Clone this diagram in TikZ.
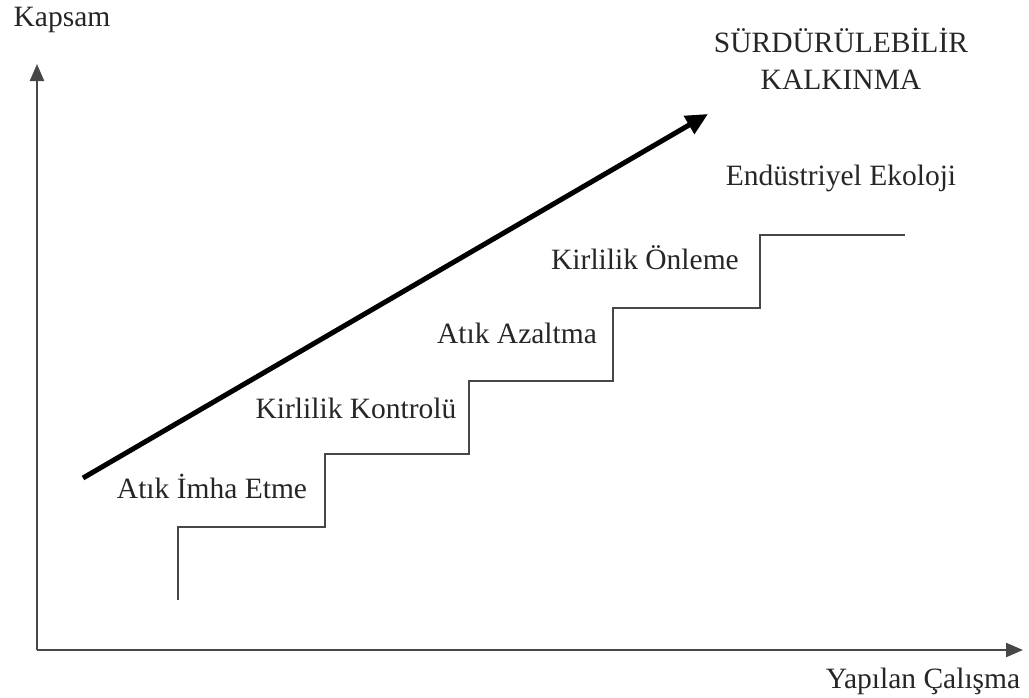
\documentclass[tikz,border=0pt]{standalone}
\usepackage{fontspec}
\setmainfont{Liberation Serif}
\usetikzlibrary{arrows.meta}
\begin{document}
\begin{tikzpicture}[x=1pt,y=-1pt,
  lbl/.style={font=\fontsize{29.5}{34}\selectfont, text=black!85, inner sep=0pt},
  axis/.style={draw=black!72, line width=2.4pt, -{Triangle[length=17pt,width=14pt]}},
  stairs/.style={draw=black!72, line width=2.4pt},
  trend/.style={draw=black, line width=5pt, -{Triangle[length=22pt,width=20pt]}}]
\useasboundingbox (0,0) rectangle (1029,697);
% axes
\coordinate (O) at (37,650);
\coordinate (Ytop) at (37,64);
\coordinate (Xend) at (1023,650);
\draw[axis] (O) -- (Ytop);
\draw[axis] (O) -- (Xend);
% staircase
\coordinate (s0) at (178,600);
\coordinate (s1) at (178,527);
\coordinate (s2) at (325,527);
\coordinate (s3) at (325,454);
\coordinate (s4) at (469,454);
\coordinate (s5) at (469,381);
\coordinate (s6) at (613,381);
\coordinate (s7) at (613,308);
\coordinate (s8) at (760,308);
\coordinate (s9) at (760,235);
\coordinate (s10) at (905,235);
\draw[stairs] (s0) -- (s1) -- (s2) -- (s3) -- (s4) -- (s5) -- (s6) -- (s7) -- (s8) -- (s9) -- (s10);
% trend arrow
\coordinate (tA) at (83,478);
\coordinate (tB) at (708,114);
\draw[trend] (tA) -- (tB);
% labels
\node[lbl] (kapsam) at (62,20) {Kapsam};
\node[lbl] (yapilan) at (923,681) {Yapılan Çalışma};
\node[lbl] (sk1) at (841,40) {SÜRDÜRÜLEBİLİR};
\node[lbl] (sk2) at (841,80) {KALKINMA};
\node[lbl] (ee) at (841,178) {Endüstriyel Ekoloji};
\node[lbl] (ko) at (645,258) {Kirlilik Önleme};
\node[lbl] (aa) at (517,333) {Atık Azaltma};
\node[lbl] (kk) at (356,408) {Kirlilik Kontrolü};
\node[lbl] (aie) at (212,486) {Atık İmha Etme};
\end{tikzpicture}
\end{document}
